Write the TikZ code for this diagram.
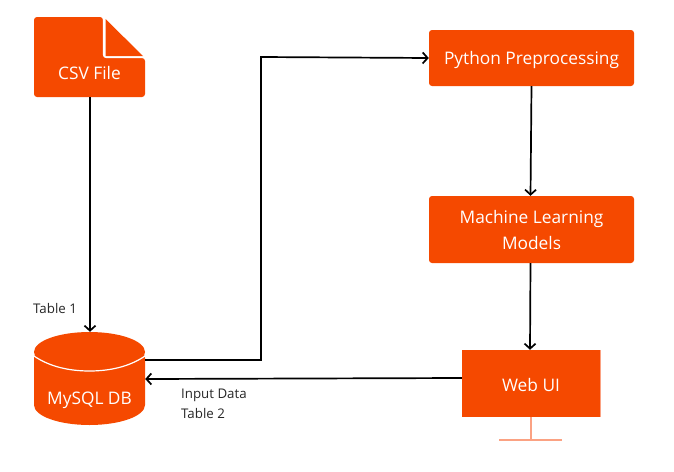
\documentclass[tikz,border=0pt]{standalone}
\usepackage{fontspec}
\setmainfont{Open Sans}
\usetikzlibrary{arrows.meta}
\definecolor{brand}{HTML}{F54900}
\definecolor{pale}{HTML}{FBA283}
\tikzset{
  x=1pt,y=-1pt,
  boxnode/.style={fill=brand,rounded corners=3pt,text=white,font=\fontsize{17.3}{26}\selectfont,align=center,inner sep=0pt,anchor=center,text height=12pt,text depth=0pt},
  plainlabel/.style={text=white,font=\fontsize{17.3}{20}\selectfont,inner sep=0pt,anchor=base},
  ghost/.style={inner sep=0pt,rectangle},
  smalllabel/.style={text=black!85,font=\fontsize{13.3}{16}\selectfont,inner sep=0pt,anchor=base west},
  link/.style={draw=black,line width=1.7pt,-{Straight Barb[length=5pt,width=11pt,line width=1.7pt]}},
}
\begin{document}
\begin{tikzpicture}
\useasboundingbox (0,0) rectangle (674,471);
% CSV file shape
\fill[brand,rounded corners=3pt] (34,17) -- (103,17) -- (103,58) -- (145,58) -- (145,97) -- (34,97) -- cycle;
\fill[brand] (105.5,19) -- (143,56) -- (105.5,56) -- cycle;
\draw[white,line width=1.2pt,rounded corners=3pt] (103.5,17) -- (103.5,57.5) -- (145,57.5);
\node[ghost,minimum width=111pt,minimum height=80pt] (csv) at (89.5,57) {};
\node[plainlabel] (csvt) at (89.5,79) {CSV File};
% database
\fill[brand] (34,358) -- (34,405) arc[x radius=55.5,y radius=-20,start angle=180,end angle=360] -- (145,358) arc[x radius=55.5,y radius=-20,start angle=0,end angle=180] -- cycle;
\fill[brand] (89.5,352) ellipse[x radius=55.5,y radius=20];
\draw[white,line width=1.2pt] (34,356) .. controls (50,367) and (70,371) .. (89.5,371) .. controls (109,371) and (129,367) .. (145,356);
\node[ghost,minimum width=111pt,minimum height=93pt] (db) at (89.5,378.5) {};
\node[plainlabel] (dbt) at (89.5,404) {MySQL DB};
% process boxes
\node[boxnode,minimum width=205pt,minimum height=56pt] (py) at (531.5,58) {Python Preprocessing};
\node[boxnode,minimum width=205pt,minimum height=67pt,text height=39pt] (ml) at (531.5,229.5) {Machine Learning\\Models};
% monitor
\draw[pale,line width=1.2pt] (531,417) -- (531,440);
\draw[pale,line width=1.2pt] (499,440) -- (562,440);
\draw[pale,line width=1pt] (600.3,350) -- (600.3,417);
\node[boxnode,rounded corners=0pt,minimum width=138pt,minimum height=67pt,text height=15pt] (web) at (531,383.5) {Web UI};
% connectors
\coordinate (bend1) at (261,360);
\coordinate (bend2) at (261,57);
\draw[link] ([xshift=.5pt]csv.south) -- ([xshift=.5pt]db.north);
\draw[link] ([yshift=18.5pt]db.east) -- (bend1) -- (bend2) -- (py.west);
\draw[link] (py.south) -- ([xshift=-1pt]ml.north);
\draw[link] ([xshift=-1pt]ml.south) -- ([xshift=-1pt]web.north);
\draw[link] ([yshift=5.5pt]web.west) -- ([yshift=-0.5pt]db.east);
% labels
\node[smalllabel] (t1) at (33,313) {Table 1};
\node[smalllabel] (t2) at (181,398) {Input Data};
\node[smalllabel] (t3) at (181,418) {Table 2};
\end{tikzpicture}
\end{document}
